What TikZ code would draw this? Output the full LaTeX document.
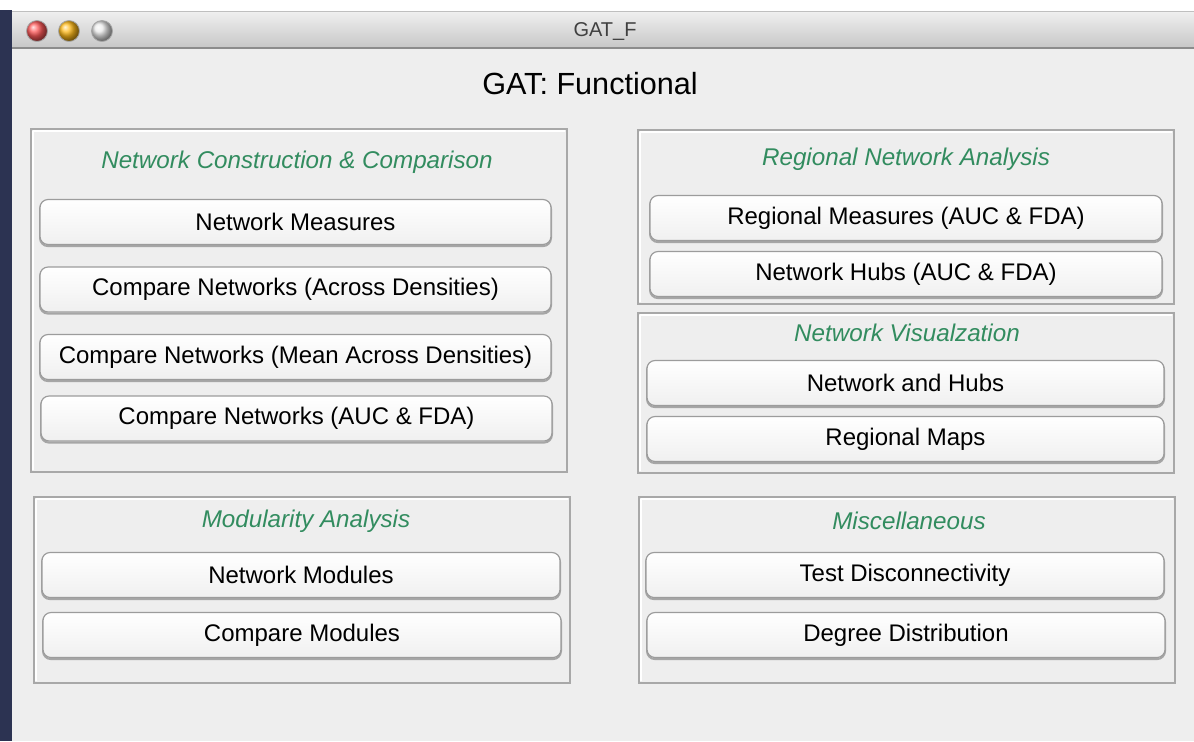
\documentclass[tikz,border=0pt]{standalone}
\usepackage{fontspec}
\setmainfont{Liberation Sans}
\usetikzlibrary{shadings}
\definecolor{winbg}{HTML}{EEEEEE}
\definecolor{headgreen}{RGB}{50,140,95}
\definecolor{btnborder}{HTML}{9C9C9C}
\definecolor{panelline}{HTML}{A8A8A8}
\definecolor{navy}{HTML}{2C3352}
\tikzset{
  btn/.style={draw=btnborder, line width=0.6pt, rounded corners=4pt,
    top color=white, bottom color=black!6, minimum height=22.5pt,
    inner sep=0pt, font=\fontsize{12}{14}\selectfont,
    preaction={draw=black!35, line width=1pt, rounded corners=4pt, transform canvas={yshift=-0.8pt}}},
  heading/.style={text=headgreen, font=\fontsize{12.1}{14}\selectfont\itshape, inner sep=0pt},
  panel/.style={draw=panelline, line width=0.8pt, fill=winbg},
  light/.style={circle, minimum size=10.5pt, inner sep=0pt, draw=black!35, line width=0.4pt},
}
\begin{document}
\begin{tikzpicture}[x=0.5pt,y=-0.5pt]
\useasboundingbox (0,0) rectangle (1194,741);
% desktop and window frame
\fill[white] (0,0) rectangle (1194,741);
\fill[navy] (0,10) rectangle (12,741);
\fill[winbg] (12,48) rectangle (1194,741);
\shade[top color=black!6, bottom color=black!22] (12,11) rectangle (1194,48);
\draw[black!45, line width=0.6pt] (12,48) -- (1194,48);
\draw[black!25, line width=0.5pt] (12,11) -- (1194,11);
% traffic lights
\node[light, ball color=red!65!white] (red) at (37,31) {};
\node[light, ball color=orange!60!yellow!90!white] (yellow) at (69,31) {};
\node[light, ball color=black!8] (grey) at (102,31) {};
\node[font=\fontsize{10}{12}\selectfont, text=black!75] (wtitle) at (605,31) {GAT\_F};
% window title
\node[font=\fontsize{15.3}{18}\selectfont] (title) at (590,84) {GAT: Functional};

% panels
\draw[panel] (31,129) rectangle (567,472);
\draw[white, line width=0.6pt] (33,131) -- (33,470) (33,131) -- (565,131);
\draw[panel] (638,130) rectangle (1174,304);
\draw[white, line width=0.6pt] (640,132) -- (640,302) (640,132) -- (1172,132);
\draw[panel] (638,313) rectangle (1174,473);
\draw[white, line width=0.6pt] (640,315) -- (640,471) (640,315) -- (1172,315);
\draw[panel] (34,497) rectangle (570,683);
\draw[white, line width=0.6pt] (36,499) -- (36,681) (36,499) -- (568,499);
\draw[panel] (639,497) rectangle (1175,683);
\draw[white, line width=0.6pt] (641,499) -- (641,681) (641,499) -- (1173,499);

% headings
\node[heading] (h1) at (297,162) {Network Construction \& Comparison};
\node[heading] (h2) at (906,159) {Regional Network Analysis};
\node[heading] (h3) at (907,333) {Network Visualzation};
\node[heading] (h4) at (306,521) {Modularity Analysis};
\node[heading] (h5) at (909,521) {Miscellaneous};

% buttons
\node[btn, minimum width=255.5pt] (b1) at (295.5,222) {Network Measures};
\node[btn, minimum width=255.5pt] (b2) at (295.5,289.5) {Compare Networks (Across Densities)};
\node[btn, minimum width=255.5pt] (b3) at (295.5,357) {Compare Networks (Mean Across Densities)};
\node[btn, minimum width=255.5pt] (b4) at (296.5,418.5) {Compare Networks (AUC \& FDA)};
\node[btn, minimum width=256pt] (b5) at (906,218) {Regional Measures (AUC \& FDA)};
\node[btn, minimum width=256pt] (b6) at (906,274) {Network Hubs (AUC \& FDA)};
\node[btn, minimum width=258.5pt] (b7) at (905.5,383) {Network and Hubs};
\node[btn, minimum width=258.5pt] (b8) at (905.5,439) {Regional Maps};
\node[btn, minimum width=259pt] (b9) at (301,575) {Network Modules};
\node[btn, minimum width=259pt] (b10) at (302,635) {Compare Modules};
\node[btn, minimum width=259pt] (b11) at (905,575) {Test Disconnectivity};
\node[btn, minimum width=259pt] (b12) at (906,635) {Degree Distribution};
\end{tikzpicture}
\end{document}
